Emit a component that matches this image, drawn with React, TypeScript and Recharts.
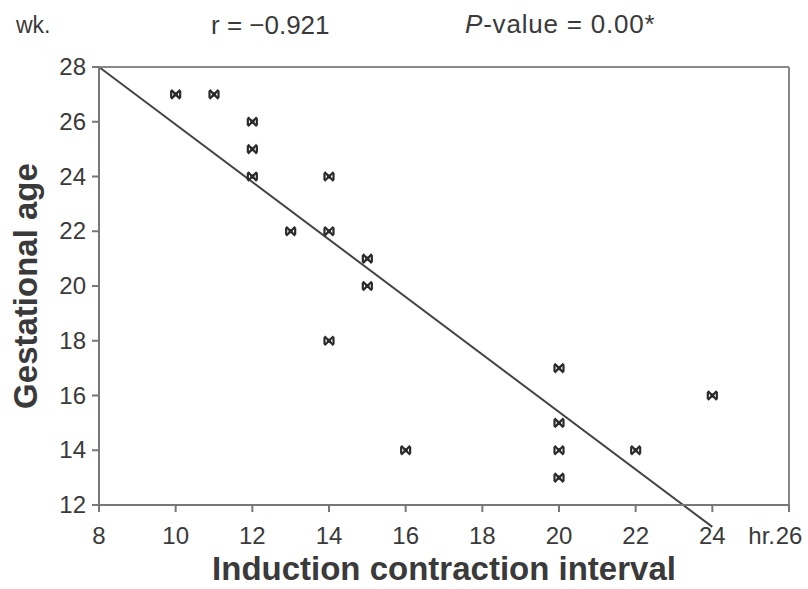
import React from "react";
import * as RC from "recharts";
import {
  ScatterChart,
  Scatter,
  XAxis,
  YAxis,
  ReferenceLine,
  Label,
} from "recharts";

const intervals = [10, 11, 12, 12, 12, 13, 14, 14, 14, 15, 15, 16, 20, 20, 20, 20, 22, 24];
const ages = [27, 27, 26, 25, 24, 22, 24, 22, 18, 21, 20, 14, 17, 15, 14, 13, 14, 16];
const xTicks = [8, 10, 12, 14, 16, 18, 20, 22, 24, 26];
const yTicks = [12, 14, 16, 18, 20, 22, 24, 26, 28];
const fitStart = { x: 8, y: 28 };
const fitEnd = { x: 24, y: 11.2 };

const points = intervals.map((x, i) => ({ x, y: ages[i] }));

const FONT = '"Liberation Sans", Arial, sans-serif';
const INK = "#3a3a3a";

const Star = (props: any) => {
  const { cx, cy } = props;
  const r = 4.5;
  return (
    <g stroke="#2a2a2a" strokeWidth={2.2}>
      <line x1={cx - r} y1={cy - r} x2={cx + r} y2={cy + r} />
      <line x1={cx - r} y1={cy + r} x2={cx + r} y2={cy - r} />
      <line x1={cx - r} y1={cy - r + 1} x2={cx - r} y2={cy + r - 1} />
      <line x1={cx + r} y1={cy - r + 1} x2={cx + r} y2={cy + r - 1} />
      <rect x={cx - 2} y={cy - 2} width={4} height={4} fill="#2a2a2a" stroke="none" />
    </g>
  );
};

const FitLine = () => {
  const xs: any = (RC as any).useXAxisScale ? (RC as any).useXAxisScale() : null;
  const ys: any = (RC as any).useYAxisScale ? (RC as any).useYAxisScale() : null;
  if (!xs || !ys) return null;
  return (
    <line
      x1={xs(fitStart.x)}
      y1={ys(fitStart.y)}
      x2={xs(fitEnd.x)}
      y2={ys(fitEnd.y)}
      stroke="#444"
      strokeWidth={2}
    />
  );
};

const XTick = (props: any) => {
  const { x, y, payload } = props;
  const v = payload.value;
  return (
    <g>
      {v === 26 && (
        <text x={x - 14} y={y + 30} textAnchor="end" fontSize={24} fill={INK} fontFamily={FONT}>
          hr.
        </text>
      )}
      <text x={x} y={y + 30} textAnchor="middle" fontSize={24} fill={INK} fontFamily={FONT}>
        {v}
      </text>
    </g>
  );
};

const YTick = (props: any) => {
  const { x, y, payload } = props;
  return (
    <text x={x - 4} y={y + 8} textAnchor="end" fontSize={24} fill={INK} fontFamily={FONT}>
      {payload.value}
    </text>
  );
};

export default function App() {
  return (
    <div style={{ position: "absolute", left: 0, top: 0, width: 808, height: 589, background: "#fff" }}>
      <div style={{ position: "absolute", left: 16, top: 12, fontFamily: FONT, fontSize: 23, color: INK }}>wk.</div>
      <div style={{ position: "absolute", left: 211, top: 10, fontFamily: FONT, fontSize: 26, color: INK }}>
        r = −0.921
      </div>
      <div style={{ position: "absolute", left: 465, top: 9, fontFamily: FONT, fontSize: 26, color: INK, letterSpacing: 0.8 }}>
        <i>P</i>-value = 0.00*
      </div>
      <ScatterChart
        width={808}
        height={589}
        margin={{ top: 67, right: 19, bottom: 44, left: 39 }}
      >
        <XAxis
          type="number"
          dataKey="x"
          domain={[8, 26]}
          ticks={xTicks}
          tickSize={7}
          tickLine={{ stroke: "#777", strokeWidth: 2 }}
          axisLine={{ stroke: "#777", strokeWidth: 2 }}
          tick={<XTick />}
          height={40}
          allowDataOverflow
        >
          <Label
            value="Induction contraction interval"
            position="bottom"
            offset={12}
            style={{ fontFamily: FONT, fontSize: 33, fontWeight: "bold", fill: INK }}
          />
        </XAxis>
        <YAxis
          type="number"
          dataKey="y"
          domain={[12, 28]}
          ticks={yTicks}
          tickSize={7}
          tickLine={{ stroke: "#777", strokeWidth: 2 }}
          axisLine={{ stroke: "#777", strokeWidth: 2 }}
          tick={<YTick />}
          width={60}
          allowDataOverflow
        >
          <Label
            value="Gestational  age"
            angle={-90}
            position="left"
            offset={14}
            style={{ fontFamily: FONT, fontSize: 33, fontWeight: "bold", fill: INK, textAnchor: "middle" }}
          />
        </YAxis>
        <ReferenceLine y={28} stroke="#888" strokeWidth={2} />
        <ReferenceLine x={26} stroke="#888" strokeWidth={2} />
        <RC.Customized component={FitLine} />
        <Scatter data={points} shape={<Star />} isAnimationActive={false} />
      </ScatterChart>
    </div>
  );
}
